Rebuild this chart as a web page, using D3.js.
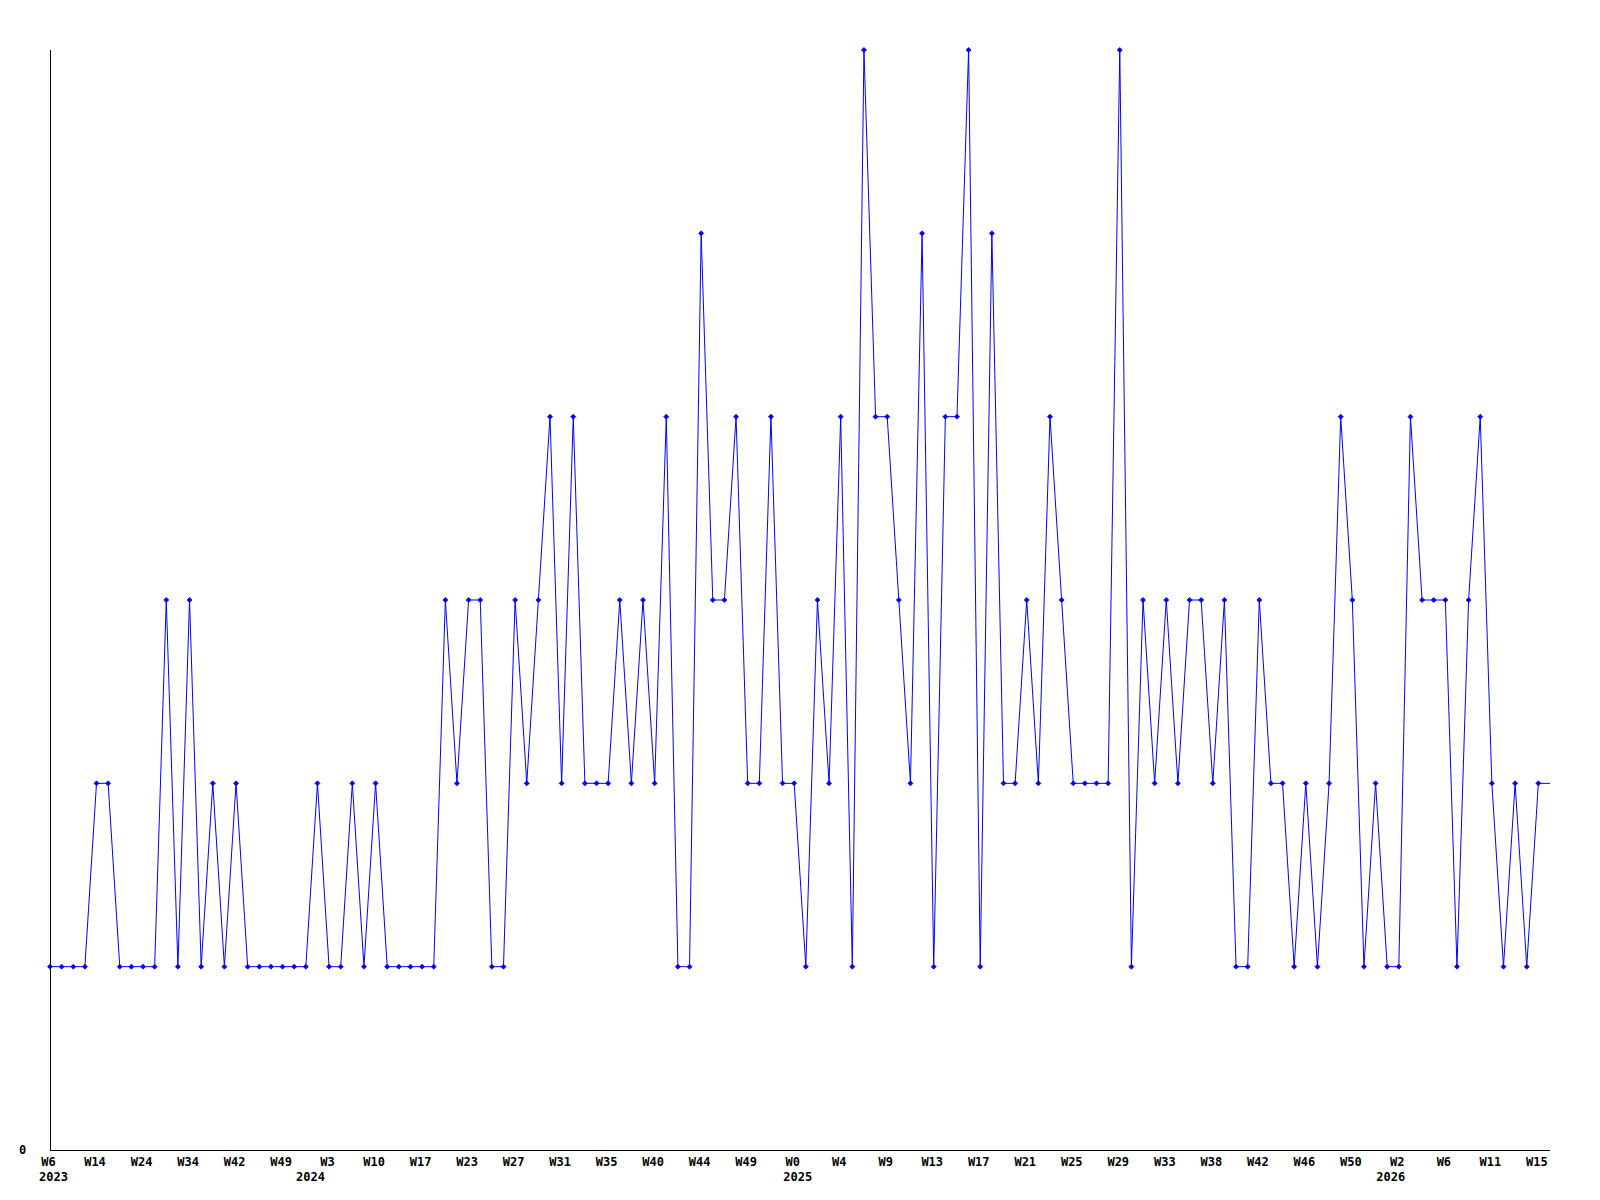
<!DOCTYPE html>
<html>
<head>
<meta charset="utf-8">
<script src="https://cdn.jsdelivr.net/npm/d3@7"></script>
<style>
  html, body { margin: 0; padding: 0; background: #ffffff; }
  svg { display: block; }
  .lbl { font-family: "DejaVu Sans Mono", "Liberation Mono", monospace; font-weight: bold; font-size: 12px; fill: #000; }
</style>
</head>
<body>
<script>
// ---- data ----
const values = [
  1,1,1,1,2,2,1,1,1,1,
  3,1,3,1,2,1,2,1,1,1,
  1,1,1,2,1,1,2,1,2,1,
  1,1,1,1,3,2,3,3,1,1,
  3,2,3,4,2,4,2,2,2,3,
  2,3,2,4,1,1,5,3,3,4,
  2,2,4,2,2,1,3,2,4,1,
  6,4,4,3,2,5,1,4,4,6,
  1,5,2,2,3,2,4,3,2,2,
  2,2,6,1,3,2,3,2,3,3,
  2,3,1,1,3,2,2,1,2,1,
  2,4,3,1,2,1,1,4,3,3,
  3,1,3,4,2,1,2,1,2,2
];
// the last value only continues the line to the axis end (no marker)
const markedCount = 129;
const weekLabels = ["W6","W14","W24","W34","W42","W49","W3","W10","W17","W23","W27",
  "W31","W35","W40","W44","W49","W0","W4","W9","W13","W17","W21","W25",
  "W29","W33","W38","W42","W46","W50","W2","W6","W11","W15"];
const labelEvery = 4;
const yearLabels = ["2023","2024","2025","2026"];
const yearIndex = [0.3, 22.4, 64.3, 115.3];   // first point of each year
const yTickValues = [0];
const yMax = 6;

// ---- layout ----
const W = 1600, H = 1200;
const M = { left: 50, right: 1550, top: 50, bottom: 1150 };

const svg = d3.select("body").append("svg").attr("width", W).attr("height", H);

const x = d3.scaleLinear().domain([0, values.length - 1]).range([M.left, M.right]);
const y = d3.scaleLinear().domain([0, yMax]).range([M.bottom, M.top]);

// line
const line = d3.line().x((d, i) => x(i)).y(d => y(d));
svg.append("path")
  .datum(values)
  .attr("d", line)
  .attr("fill", "none")
  .attr("stroke", "#0000ff")
  .attr("stroke-width", 1);

// markers
svg.append("g").selectAll("path")
  .data(values.slice(0, markedCount))
  .join("path")
  .attr("transform", (d, i) => `translate(${x(i)},${y(d)})`)
  .attr("d", "M0,-2.5L2.5,0L0,2.5L-2.5,0Z")
  .attr("fill", "#0000ff")
  .attr("stroke", "#0000ff")
  .attr("stroke-width", 0.8);

// x axis
const tickIdx = weekLabels.map((_, i) => i * labelEvery);
const xAxis = d3.axisBottom(x)
  .tickValues(tickIdx)
  .tickSize(0)
  .tickPadding(0)
  .tickFormat((d, i) => weekLabels[i]);
const gx = svg.append("g").attr("transform", `translate(0,${M.bottom + 0.5})`).call(xAxis);
gx.select(".domain").attr("stroke", "#000").attr("stroke-width", 1).attr("d", `M${M.left},0H${M.right}`);
gx.selectAll(".tick text").attr("class", "lbl").attr("y", 15.5).attr("dx", -2).attr("dy", null);

// year row
svg.append("g").selectAll("text")
  .data(yearLabels)
  .join("text")
  .attr("class", "lbl")
  .attr("x", (d, i) => x(yearIndex[i]))
  .attr("y", M.bottom + 31)
  .attr("text-anchor", "middle")
  .text(d => d);

// y axis
const yAxis = d3.axisLeft(y).tickValues(yTickValues).tickSize(0).tickPadding(0).tickFormat(d3.format("d"));
const gy = svg.append("g").attr("transform", `translate(${M.left + 0.5},0)`).call(yAxis);
gy.select(".domain").attr("stroke", "#000").attr("stroke-width", 1).attr("d", `M0,${M.top}V${M.bottom}`);
gy.selectAll(".tick text").attr("class", "lbl").attr("x", -28).attr("text-anchor", "middle").attr("dy", "0.3em");
</script>
</body>
</html>
